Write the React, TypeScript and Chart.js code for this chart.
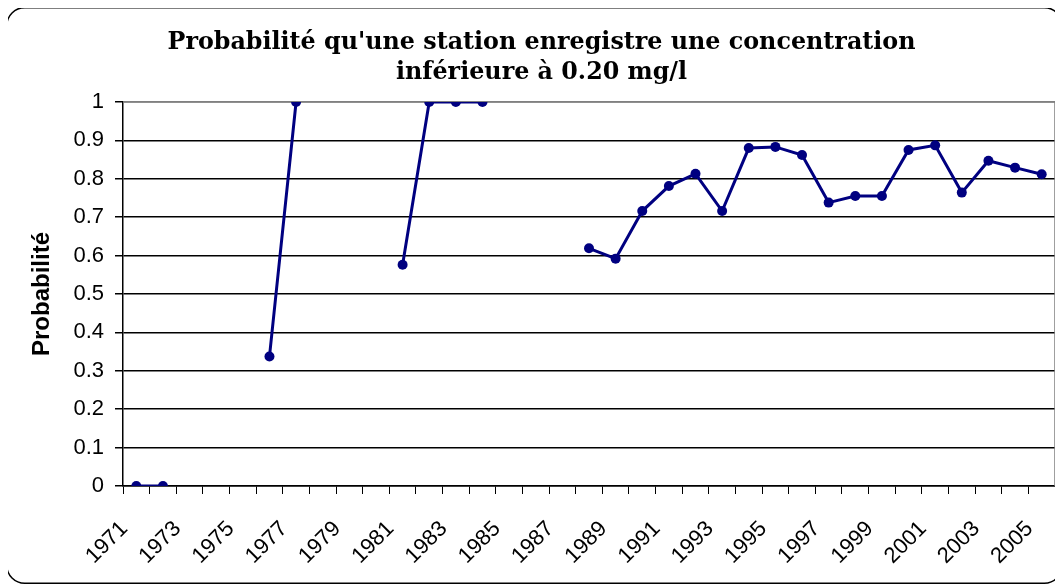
import React, { useEffect, useRef } from 'react';
import { Chart, registerables } from 'chart.js';

Chart.register(...registerables);

const years: string[] = [
  '1971', '1972', '1973', '1974', '1975', '1976', '1977', '1978', '1979', '1980',
  '1981', '1982', '1983', '1984', '1985', '1986', '1987', '1988', '1989', '1990',
  '1991', '1992', '1993', '1994', '1995', '1996', '1997', '1998', '1999', '2000',
  '2001', '2002', '2003', '2004', '2005',
];

const probability: (number | null)[] = [
  0, 0, null, null, null, 0.337, 1, null, null, null,
  0.576, 1, 1, 1, null, null, null, 0.619, 0.592, 0.716,
  0.781, 0.813, 0.716, 0.88, 0.883, 0.862, 0.738, 0.755, 0.755, 0.875,
  0.887, 0.764, 0.847, 0.829, 0.812,
];

const titleLines: string[] = [
  "Probabilité qu'une station enregistre une concentration",
  'inférieure à 0.20 mg/l',
];

const yAxisTitle = 'Probabilité';

const W = 1057;
const H = 577;
const AREA = { left: 117, right: 1049, top: 95, bottom: 479 };

export default function App() {
  const ref = useRef<HTMLCanvasElement | null>(null);

  useEffect(() => {
    if (!ref.current) return;
    const frame = {
      id: 'frame',
      beforeDraw(chart: any) {
        const ctx = chart.ctx;
        ctx.save();
        ctx.fillStyle = '#fff';
        ctx.fillRect(0, 0, chart.width, chart.height);
        ctx.strokeStyle = '#000';
        ctx.lineWidth = 1.5;
        ctx.beginPath();
        (ctx as any).roundRect(0.75, 0.75, chart.width - 1.5, chart.height - 1.5, 18);
        ctx.stroke();
        ctx.restore();
      },
      beforeDatasetsDraw(chart: any) {
        const { ctx, chartArea } = chart;
        ctx.save();
        ctx.strokeStyle = '#808080';
        ctx.lineWidth = 1.5;
        ctx.beginPath();
        ctx.moveTo(chartArea.left, chartArea.top);
        ctx.lineTo(chartArea.right, chartArea.top);
        ctx.lineTo(chartArea.right, chartArea.bottom);
        ctx.stroke();
        ctx.restore();
      },
    };

    const chart = new Chart(ref.current, {
      type: 'line',
      data: {
        labels: years,
        datasets: [
          {
            data: probability,
            borderColor: '#000080',
            backgroundColor: '#000080',
            borderWidth: 3,
            pointRadius: 5,
            pointHoverRadius: 5,
            pointBackgroundColor: '#000080',
            pointBorderColor: '#000080',
            pointBorderWidth: 0,
            spanGaps: false,
            tension: 0,
            fill: false,
          },
        ],
      },
      options: {
        responsive: false,
        maintainAspectRatio: false,
        animation: false,
        layout: { padding: { left: 22, right: W - AREA.right, top: 0, bottom: 10 } },
        plugins: {
          legend: { display: false },
          tooltip: { enabled: false },
          title: {
            display: true,
            text: titleLines,
            color: '#000',
            font: { family: 'DejaVu Serif', weight: 'bold', size: 23.8, lineHeight: 1.26 },
            padding: { top: 20.5, bottom: 14.5 },
          },
        },
        scales: {
          x: {
            type: 'category',
            offset: true,
            afterFit(scale: any) {
              scale.height = H - 10 - AREA.bottom;
              scale.paddingLeft = 0;
              scale.paddingRight = 0;
            },
            grid: {
              offset: true,
              drawOnChartArea: false,
              drawTicks: true,
              tickLength: 8,
              color: '#000',
              lineWidth: 1,
            },
            border: { display: true, color: '#000', width: 1.5 },
            ticks: {
              autoSkip: false,
              minRotation: 45,
              maxRotation: 45,
              padding: 22,
              labelOffset: -12,
              color: '#000',
              font: { family: 'Liberation Sans', size: 22 },
              callback: (_v: any, i: number) => (i % 2 === 0 ? years[i] : ''),
            },
          },
          y: {
            min: 0,
            max: 1,
            afterFit(scale: any) {
              scale.width = AREA.left - 22;
              scale.paddingTop = 0;
              scale.paddingBottom = 0;
            },
            grid: {
              color: (c: any) => (c.tick && c.tick.value >= 1 ? '#808080' : '#000'),
              lineWidth: 1.5,
              tickLength: 8,
              tickColor: '#000',
            },
            border: { display: true, color: '#000', width: 1.5 },
            ticks: {
              stepSize: 0.1,
              padding: 11,
              color: '#000',
              font: { family: 'Liberation Sans', size: 22 },
              callback: (v: any) => String(Number(Number(v).toFixed(1))),
            },
            title: {
              display: true,
              text: yAxisTitle,
              color: '#000',
              font: { family: 'Liberation Sans', weight: 'bold', size: 24 },
              padding: { top: 0, bottom: 0 },
            },
          },
        },
      },
      plugins: [frame],
    });
    return () => chart.destroy();
  }, []);

  return (
    <div style={{ position: 'relative', left: -2, top: -1, width: W, height: H }}>
      <canvas ref={ref} width={W} height={H} style={{ display: 'block', width: W, height: H }} />
    </div>
  );
}
